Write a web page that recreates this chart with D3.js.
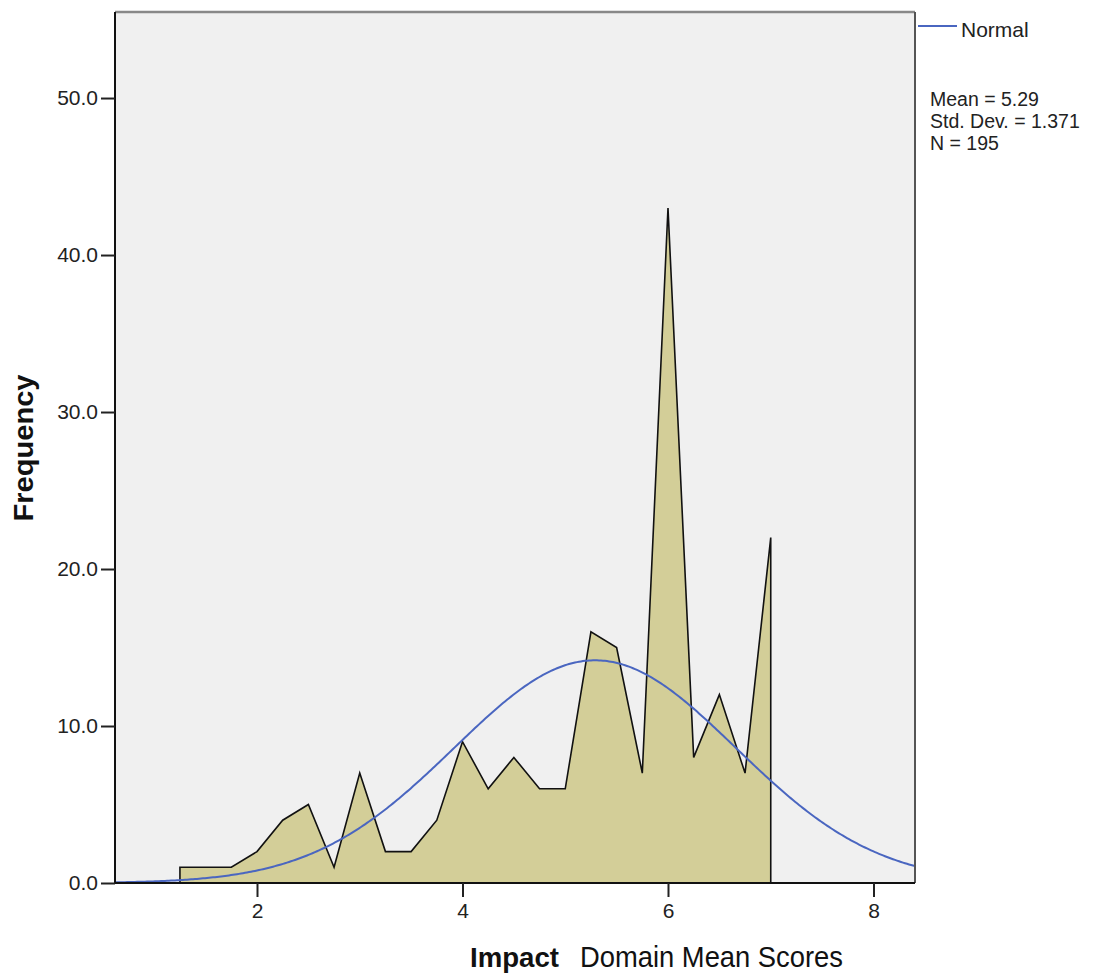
<!DOCTYPE html>
<html><head><meta charset="utf-8">
<script src="https://cdn.jsdelivr.net/npm/d3@7"></script>
<style>body{margin:0;background:#fff}</style>
</head><body>
<svg id="c" width="1097" height="978"></svg>
<script>
const binMids = [1.25,1.5,1.75,2,2.25,2.5,2.75,3,3.25,3.5,3.75,4,4.25,4.5,4.75,5,5.25,5.5,5.75,6,6.25,6.5,6.75,7];
const freqs   = [1,1,1,2,4,5,1,7,2,2,4,9,6,8,6,6,16,15,7,43,8,12,7,22];
const xTicks = [2,4,6,8];
const yTicks = [0,10,20,30,40,50];
const stats = {mean:5.29, sd:1.371, n:195, binWidth:0.25};
const statLines = ["Mean = 5.29","Std. Dev. = 1.371","N = 195"];

const svg = d3.select("#c");
const L=115,R=915,T=12,B=883;
const x = d3.scaleLinear().domain([0.618,8.404]).range([L,R]);
const y = d3.scaleLinear().domain([0,55.48]).range([B,T]);

svg.append("rect").attr("x",L).attr("y",T).attr("width",R-L).attr("height",B-T).attr("fill","#f0f0f0");

// frequency polygon
const pts = [[binMids[0],0]].concat(binMids.map((m,i)=>[m,freqs[i]])).concat([[binMids[binMids.length-1],0]]);
const area = d3.area().x(d=>x(d[0])).y0(y(0)).y1(d=>y(d[1]));
svg.append("path").datum(pts).attr("d",area).attr("fill","#d3ce98");
svg.append("path").datum(pts).attr("d",d3.line().x(d=>x(d[0])).y(d=>y(d[1])))
  .attr("fill","none").attr("stroke","#111").attr("stroke-width",1.6).attr("stroke-linejoin","miter");

// normal curve
const scale = stats.n*stats.binWidth/(stats.sd*Math.sqrt(2*Math.PI));
const curve = d3.range(0,401).map(i=>{const xv=0.618+(8.404-0.618)*i/400;return [xv, scale*Math.exp(-0.5*((xv-stats.mean)/stats.sd)**2)];});
svg.append("path").datum(curve).attr("d",d3.line().x(d=>x(d[0])).y(d=>y(d[1])))
  .attr("fill","none").attr("stroke","#4a66c0").attr("stroke-width",2);

// frame
svg.append("line").attr("x1",L).attr("x2",R).attr("y1",T).attr("y2",T).attr("stroke","#888").attr("stroke-width",2.5);
svg.append("line").attr("x1",R).attr("x2",R).attr("y1",T).attr("y2",B).attr("stroke","#555").attr("stroke-width",2);
svg.append("line").attr("x1",L).attr("x2",L).attr("y1",T).attr("y2",B).attr("stroke","#111").attr("stroke-width",2);
svg.append("line").attr("x1",L).attr("x2",R).attr("y1",B).attr("y2",B).attr("stroke","#111").attr("stroke-width",2);

// axes
const font = "'Liberation Sans', Arial, sans-serif";
const yAx = svg.append("g").attr("transform",`translate(${L},0)`)
  .call(d3.axisLeft(y).tickValues(yTicks).tickFormat(d3.format(".1f")).tickSize(14).tickSizeOuter(0));
yAx.select(".domain").remove();
yAx.selectAll("line").attr("stroke","#222").attr("stroke-width",2);
yAx.selectAll("text").attr("font-family",font).attr("font-size",21).attr("fill","#222").attr("x",-17);

const xAx = svg.append("g").attr("transform",`translate(0,${B})`)
  .call(d3.axisBottom(x).tickValues(xTicks).tickFormat(d3.format("d")).tickSize(14).tickSizeOuter(0));
xAx.select(".domain").remove();
xAx.selectAll("line").attr("stroke","#222").attr("stroke-width",2);
xAx.selectAll("text").attr("font-family",font).attr("font-size",21).attr("fill","#222").attr("y",20);

// axis titles
svg.append("text").attr("transform","translate(33,448) rotate(-90)").attr("text-anchor","middle")
  .attr("font-family",font).attr("font-weight","bold").attr("font-size",27).attr("fill","#111")
  .attr("textLength",147).attr("lengthAdjust","spacingAndGlyphs").text("Frequency");
svg.append("text").attr("x",470).attr("y",967).attr("font-family",font).attr("font-weight","bold")
  .attr("font-size",27).attr("fill","#111").attr("textLength",89).attr("lengthAdjust","spacingAndGlyphs").text("Impact");
svg.append("text").attr("x",580).attr("y",967).attr("font-family","'Liberation Sans Narrow', 'Arial Narrow', 'Liberation Sans', sans-serif")
  .attr("font-size",29).attr("fill","#111").attr("textLength",263).attr("lengthAdjust","spacingAndGlyphs").text("Domain Mean Scores");

// legend
svg.append("line").attr("x1",918).attr("x2",957).attr("y1",26).attr("y2",26).attr("stroke","#4a66c0").attr("stroke-width",2);
svg.append("text").attr("x",961).attr("y",37).attr("font-family",font).attr("font-size",21).attr("fill","#222").text("Normal");
svg.selectAll("text.stat").data(statLines).enter().append("text").attr("class","stat")
  .attr("x",930).attr("y",(d,i)=>106+i*22).attr("font-family",font).attr("font-size",19.5)
  .attr("fill","#222").text(d=>d);
</script>
</body></html>
